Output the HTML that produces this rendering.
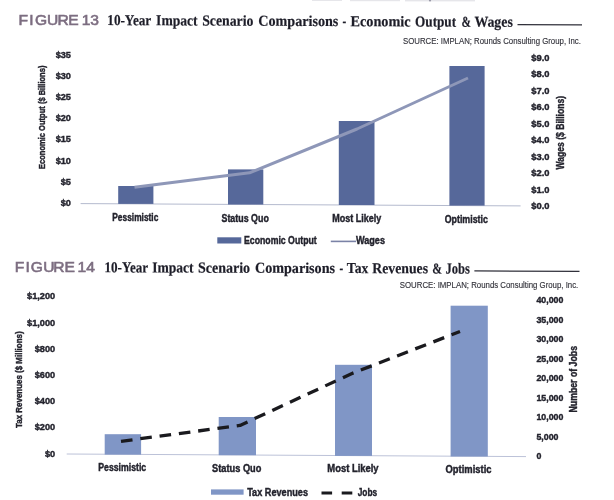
<!DOCTYPE html>
<html><head><meta charset="utf-8">
<style>
html,body{margin:0;padding:0;background:#ffffff;width:614px;height:500px;overflow:hidden}
svg{position:absolute;left:0;top:0;filter:blur(0.35px)}
text{font-family:"Liberation Sans",sans-serif}
.fig{font-weight:normal;fill:#7c6d80;stroke:#7c6d80;stroke-width:0.55px}
.ttl{font-family:"Liberation Serif",serif;font-weight:bold;fill:#1d1d28;stroke:#1d1d28;stroke-width:0.2px}
.src{fill:#34343c;stroke:#34343c;stroke-width:0.15px}
.ax{font-weight:bold;fill:#23232d;stroke:#23232d;stroke-width:0.4px}
</style></head>
<body>
<svg width="614" height="500" viewBox="0 0 614 500">

<g fill="#e6e6ea"><rect x="312" y="0" width="30" height="1"/><rect x="350" y="0" width="50" height="1.2"/><rect x="405" y="0" width="70" height="1.4"/><circle cx="430" cy="0.5" r="1.1" fill="#9a9aa8"/></g>
<g transform="scale(1.1,1)"><text class="fig" x="21.14 28.64 37.32 47.95 57.32 66.68 78.32 86.00" y="24.8" font-size="14.2" text-anchor="middle">FIGURE13</text></g>
<text class="ttl" x="107.30" y="25.10" font-size="15.2" textLength="43.90" lengthAdjust="spacingAndGlyphs" transform="rotate(0.254 107.30 25.10)">10-Year</text>
<text class="ttl" x="156.10" y="25.32" font-size="15.2" textLength="41.50" lengthAdjust="spacingAndGlyphs" transform="rotate(0.254 156.10 25.32)">Impact</text>
<text class="ttl" x="202.20" y="25.52" font-size="15.2" textLength="51.20" lengthAdjust="spacingAndGlyphs" transform="rotate(0.254 202.20 25.52)">Scenario</text>
<text class="ttl" x="258.30" y="25.77" font-size="15.2" textLength="80.01" lengthAdjust="spacingAndGlyphs" transform="rotate(0.254 258.30 25.77)">Comparisons</text>
<text class="ttl" x="342.40" y="26.14" font-size="15.2" textLength="3.70" lengthAdjust="spacingAndGlyphs" transform="rotate(0.254 342.40 26.14)">-</text>
<text class="ttl" x="350.50" y="26.18" font-size="15.2" textLength="60.10" lengthAdjust="spacingAndGlyphs" transform="rotate(0.254 350.50 26.18)">Economic</text>
<text class="ttl" x="415.10" y="26.47" font-size="15.2" textLength="41.00" lengthAdjust="spacingAndGlyphs" transform="rotate(0.254 415.10 26.47)">Output</text>
<text class="ttl" x="461.40" y="26.67" font-size="15.2" textLength="9.40" lengthAdjust="spacingAndGlyphs" transform="rotate(0.254 461.40 26.67)">&amp;</text>
<text class="ttl" x="474.40" y="26.73" font-size="15.2" textLength="38.40" lengthAdjust="spacingAndGlyphs" transform="rotate(0.254 474.40 26.73)">Wages</text>
<line x1="517.5" y1="24.6" x2="582" y2="24.9" stroke="#30303a" stroke-width="1.3"/>
<text class="src" x="403.00" y="43.60" font-size="8.6" textLength="177.80" lengthAdjust="spacingAndGlyphs">SOURCE: IMPLAN; Rounds Consulting Group, Inc.</text>
<text class="ax" x="0" y="57.7" font-size="9.8" text-anchor="end" transform="translate(71,0) scale(0.94,1)">$35</text>
<text class="ax" x="0" y="78.9" font-size="9.8" text-anchor="end" transform="translate(71,0) scale(0.94,1)">$30</text>
<text class="ax" x="0" y="100.1" font-size="9.8" text-anchor="end" transform="translate(71,0) scale(0.94,1)">$25</text>
<text class="ax" x="0" y="121.3" font-size="9.8" text-anchor="end" transform="translate(71,0) scale(0.94,1)">$20</text>
<text class="ax" x="0" y="142.5" font-size="9.8" text-anchor="end" transform="translate(71,0) scale(0.94,1)">$15</text>
<text class="ax" x="0" y="163.7" font-size="9.8" text-anchor="end" transform="translate(71,0) scale(0.94,1)">$10</text>
<text class="ax" x="0" y="184.9" font-size="9.8" text-anchor="end" transform="translate(71,0) scale(0.94,1)">$5</text>
<text class="ax" x="0" y="206.1" font-size="9.8" text-anchor="end" transform="translate(71,0) scale(0.94,1)">$0</text>
<text class="ax" x="0" y="0" font-size="9.6" textLength="103.40" lengthAdjust="spacingAndGlyphs" transform="translate(45.30,169.00) rotate(-90)">Economic Output ($ Billions)</text>
<line x1="80.6" y1="203.6" x2="520.6" y2="205.9" stroke="#b4bace" stroke-width="1"/>
<rect x="118.2" y="186.0" width="35.2" height="17.9" fill="#56689a"/>
<rect x="228.0" y="169.4" width="35.3" height="35.1" fill="#56689a"/>
<rect x="338.8" y="121.0" width="35.7" height="84.0" fill="#56689a"/>
<rect x="449.4" y="66.0" width="35.2" height="139.6" fill="#56689a"/>
<polyline points="134.5,187.3 249.5,172.8 357,129 468,78" fill="none" stroke="#8e97b8" stroke-width="3" stroke-linejoin="round"/>
<text class="ax" x="0" y="60.9" font-size="9.4" transform="translate(531.3,0) scale(1.0,1)">$9.0</text>
<text class="ax" x="0" y="77.4" font-size="9.4" transform="translate(531.3,0) scale(1.0,1)">$8.0</text>
<text class="ax" x="0" y="93.9" font-size="9.4" transform="translate(531.3,0) scale(1.0,1)">$7.0</text>
<text class="ax" x="0" y="110.3" font-size="9.4" transform="translate(531.3,0) scale(1.0,1)">$6.0</text>
<text class="ax" x="0" y="126.8" font-size="9.4" transform="translate(531.3,0) scale(1.0,1)">$5.0</text>
<text class="ax" x="0" y="143.3" font-size="9.4" transform="translate(531.3,0) scale(1.0,1)">$4.0</text>
<text class="ax" x="0" y="159.8" font-size="9.4" transform="translate(531.3,0) scale(1.0,1)">$3.0</text>
<text class="ax" x="0" y="176.3" font-size="9.4" transform="translate(531.3,0) scale(1.0,1)">$2.0</text>
<text class="ax" x="0" y="192.7" font-size="9.4" transform="translate(531.3,0) scale(1.0,1)">$1.0</text>
<text class="ax" x="0" y="209.2" font-size="9.4" transform="translate(531.3,0) scale(1.0,1)">$0.0</text>
<text class="ax" x="0" y="0" font-size="10.2" textLength="73.40" lengthAdjust="spacingAndGlyphs" transform="translate(563.50,169.40) rotate(-90)">Wages ($ Billions)</text>
<text class="ax" x="112.30" y="221.00" font-size="10.1" textLength="46.00" lengthAdjust="spacingAndGlyphs">Pessimistic</text>
<text class="ax" x="221.50" y="222.00" font-size="10.1" textLength="47.30" lengthAdjust="spacingAndGlyphs">Status Quo</text>
<text class="ax" x="332.30" y="222.20" font-size="10.1" textLength="49.00" lengthAdjust="spacingAndGlyphs">Most Likely</text>
<text class="ax" x="444.70" y="222.50" font-size="10.1" textLength="43.20" lengthAdjust="spacingAndGlyphs">Optimistic</text>
<rect x="217.3" y="237.3" width="24" height="6.2" fill="#56689a"/>
<text class="ax" x="244.00" y="243.60" font-size="10.2" textLength="72.70" lengthAdjust="spacingAndGlyphs">Economic Output</text>
<line x1="330.8" y1="241.4" x2="356" y2="241.4" stroke="#7a82a6" stroke-width="1.6"/>
<text class="ax" x="356.00" y="244.30" font-size="10.2" textLength="29.00" lengthAdjust="spacingAndGlyphs">Wages</text>
<g transform="scale(1.1,1)"><text class="fig" x="17.73 25.23 33.59 44.36 53.59 63.27 74.41 82.27" y="272.0" font-size="14.2" text-anchor="middle">FIGURE14</text></g>
<text class="ttl" x="104.50" y="272.30" font-size="15.2" textLength="43.50" lengthAdjust="spacingAndGlyphs" transform="rotate(0.188 104.50 272.30)">10-Year</text>
<text class="ttl" x="152.20" y="272.46" font-size="15.2" textLength="41.40" lengthAdjust="spacingAndGlyphs" transform="rotate(0.188 152.20 272.46)">Impact</text>
<text class="ttl" x="198.00" y="272.61" font-size="15.2" textLength="52.10" lengthAdjust="spacingAndGlyphs" transform="rotate(0.188 198.00 272.61)">Scenario</text>
<text class="ttl" x="255.00" y="272.79" font-size="15.2" textLength="80.01" lengthAdjust="spacingAndGlyphs" transform="rotate(0.188 255.00 272.79)">Comparisons</text>
<text class="ttl" x="339.40" y="273.07" font-size="15.2" textLength="3.70" lengthAdjust="spacingAndGlyphs" transform="rotate(0.188 339.40 273.07)">-</text>
<text class="ttl" x="346.80" y="273.10" font-size="15.2" textLength="21.50" lengthAdjust="spacingAndGlyphs" transform="rotate(0.188 346.80 273.10)">Tax</text>
<text class="ttl" x="372.30" y="273.18" font-size="15.2" textLength="55.70" lengthAdjust="spacingAndGlyphs" transform="rotate(0.188 372.30 273.18)">Revenues</text>
<text class="ttl" x="432.30" y="273.38" font-size="15.2" textLength="9.70" lengthAdjust="spacingAndGlyphs" transform="rotate(0.188 432.30 273.38)">&amp;</text>
<text class="ttl" x="445.50" y="273.42" font-size="15.2" textLength="24.40" lengthAdjust="spacingAndGlyphs" transform="rotate(0.188 445.50 273.42)">Jobs</text>
<line x1="474.4" y1="270.9" x2="579.5" y2="271.4" stroke="#30303a" stroke-width="1.3"/>
<text class="src" x="399.80" y="288.00" font-size="8.6" textLength="178.50" lengthAdjust="spacingAndGlyphs">SOURCE: IMPLAN; Rounds Consulting Group, Inc.</text>
<text class="ax" x="0" y="299.4" font-size="9.2" text-anchor="end" transform="translate(55.2,0) scale(1.0,1)">$1,200</text>
<text class="ax" x="0" y="325.6" font-size="9.2" text-anchor="end" transform="translate(55.2,0) scale(1.0,1)">$1,000</text>
<text class="ax" x="0" y="351.8" font-size="9.2" text-anchor="end" transform="translate(55.2,0) scale(1.0,1)">$800</text>
<text class="ax" x="0" y="378.0" font-size="9.2" text-anchor="end" transform="translate(55.2,0) scale(1.0,1)">$600</text>
<text class="ax" x="0" y="404.2" font-size="9.2" text-anchor="end" transform="translate(55.2,0) scale(1.0,1)">$400</text>
<text class="ax" x="0" y="430.4" font-size="9.2" text-anchor="end" transform="translate(55.2,0) scale(1.0,1)">$200</text>
<text class="ax" x="0" y="456.6" font-size="9.2" text-anchor="end" transform="translate(55.2,0) scale(1.0,1)">$0</text>
<text class="ax" x="0" y="0" font-size="9.4" textLength="96.60" lengthAdjust="spacingAndGlyphs" transform="translate(21.80,428.00) rotate(-90)">Tax Revenues ($ Millions)</text>
<line x1="66.7" y1="454.0" x2="526" y2="456.6" stroke="#bcc2d8" stroke-width="1"/>
<rect x="104.7" y="434.2" width="36.4" height="20.4" fill="#8096c6"/>
<rect x="218.7" y="417.0" width="37.3" height="38.2" fill="#8096c6"/>
<rect x="335.0" y="364.8" width="37.0" height="91.1" fill="#8096c6"/>
<rect x="450.6" y="305.7" width="37.2" height="150.8" fill="#8096c6"/>
<polyline points="121,441.3 240,425.4 352,373.5 460,331.5" fill="none" stroke="#1a1a1e" stroke-width="3.3" stroke-dasharray="11.6 7.86" stroke-linejoin="round"/>
<text class="ax" x="0" y="303.1" font-size="9.2" transform="translate(536.4,0) scale(0.96,1)">40,000</text>
<text class="ax" x="0" y="322.6" font-size="9.2" transform="translate(536.4,0) scale(0.96,1)">35,000</text>
<text class="ax" x="0" y="342.1" font-size="9.2" transform="translate(536.4,0) scale(0.96,1)">30,000</text>
<text class="ax" x="0" y="361.6" font-size="9.2" transform="translate(536.4,0) scale(0.96,1)">25,000</text>
<text class="ax" x="0" y="381.1" font-size="9.2" transform="translate(536.4,0) scale(0.96,1)">20,000</text>
<text class="ax" x="0" y="400.6" font-size="9.2" transform="translate(536.4,0) scale(0.96,1)">15,000</text>
<text class="ax" x="0" y="420.1" font-size="9.2" transform="translate(536.4,0) scale(0.96,1)">10,000</text>
<text class="ax" x="0" y="439.6" font-size="9.2" transform="translate(536.4,0) scale(0.96,1)">5,000</text>
<text class="ax" x="0" y="459.1" font-size="9.2" transform="translate(536.4,0) scale(0.96,1)">0</text>
<text class="ax" x="0" y="0" font-size="10.2" textLength="66.50" lengthAdjust="spacingAndGlyphs" transform="translate(576.50,412.50) rotate(-90)">Number of Jobs</text>
<text class="ax" x="98.30" y="471.40" font-size="10.1" textLength="47.90" lengthAdjust="spacingAndGlyphs">Pessimistic</text>
<text class="ax" x="212.10" y="471.90" font-size="10.1" textLength="49.30" lengthAdjust="spacingAndGlyphs">Status Quo</text>
<text class="ax" x="327.30" y="472.20" font-size="10.1" textLength="51.30" lengthAdjust="spacingAndGlyphs">Most Likely</text>
<text class="ax" x="445.50" y="472.50" font-size="10.1" textLength="46.00" lengthAdjust="spacingAndGlyphs">Optimistic</text>
<rect x="211" y="489.4" width="32.6" height="5.3" fill="#8096c6"/>
<text class="ax" x="247.20" y="495.50" font-size="10.4" textLength="60.80" lengthAdjust="spacingAndGlyphs">Tax Revenues</text>
<line x1="321.5" y1="493" x2="352.3" y2="493" stroke="#1a1a1e" stroke-width="3" stroke-dasharray="10.6 9.6"/>
<text class="ax" x="357.70" y="496.00" font-size="10.4" textLength="19.50" lengthAdjust="spacingAndGlyphs">Jobs</text>
</svg>
</body></html>
